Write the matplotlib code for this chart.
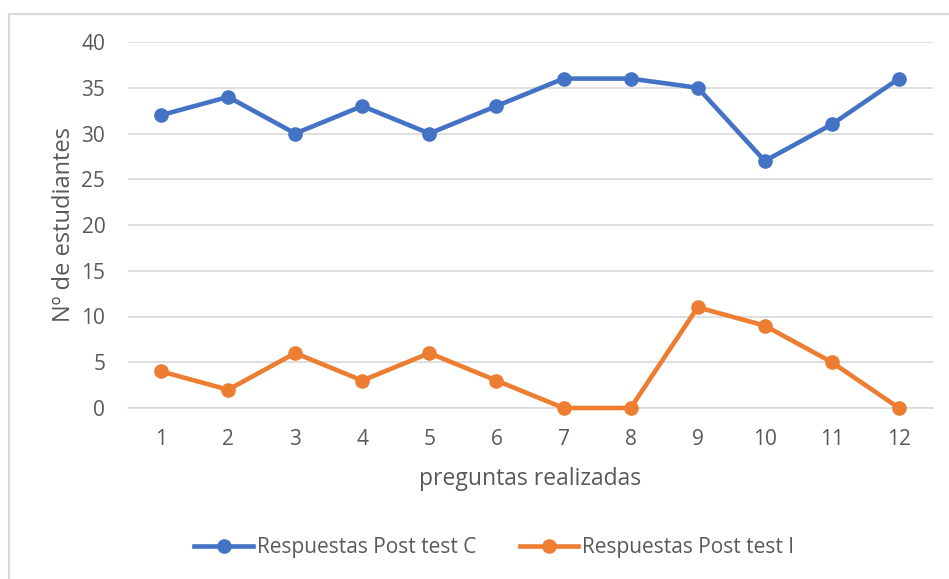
import matplotlib.pyplot as plt
from matplotlib.lines import Line2D

preguntas = list(range(1, 13))
post_test_c = [32, 34, 30, 33, 30, 33, 36, 36, 35, 27, 31, 36]
post_test_i = [4, 2, 6, 3, 6, 3, 0, 0, 11, 9, 5, 0]

plt.rcParams['font.family'] = ['Open Sans', 'DejaVu Sans']
txt = '#595959'

fig = plt.figure(figsize=(9.49, 5.79), dpi=100)
ax = fig.add_axes([127.5 / 949, 1 - 408 / 579, 805 / 949, 366 / 579])

ax.plot(preguntas, post_test_c, color='#4472C4', lw=3.3, marker='o', ms=9.5,
        label='Respuestas Post test C', clip_on=False, zorder=3)
ax.plot(preguntas, post_test_i, color='#ED7D31', lw=3.3, marker='o', ms=9.5,
        label='Respuestas Post test I', clip_on=False, zorder=3)

ax.set_xlim(0.5, 12.5)
ax.set_ylim(0, 40)
ax.set_yticks(range(0, 41, 5))
ax.set_xticks(preguntas)
ax.grid(axis='y', color='#D9D9D9', lw=1.2)
ax.set_axisbelow(True)
for s in ['top', 'right', 'left']:
    ax.spines[s].set_visible(False)
ax.spines['bottom'].set_color('#D9D9D9')
ax.spines['bottom'].set_linewidth(1.2)
ax.tick_params(length=0, labelsize=15, colors=txt)
ax.tick_params(axis='x', pad=15)
ax.tick_params(axis='y', pad=16)

ax.set_xlabel('preguntas realizadas', fontsize=16.5, color=txt, labelpad=12.5)
ax.set_ylabel('Nº de estudiantes', fontsize=17, color=txt, labelpad=4)

fig.legend(loc='center', bbox_to_anchor=(0.5 + 20 / 949, 1 - 548 / 579), ncol=2,
           frameon=False, fontsize=15, labelcolor=txt, handlelength=2.8,
           columnspacing=2.1, handletextpad=0.2)

# chart frame
fig.add_artist(Line2D([9 / 949, 9 / 949], [0, 1 - 14 / 579], color='#D9D9D9', lw=1.5))
fig.add_artist(Line2D([9 / 949, 1], [1 - 14 / 579, 1 - 14 / 579], color='#D9D9D9', lw=1.5))

fig.savefig('out.png', dpi=100, facecolor='white')
